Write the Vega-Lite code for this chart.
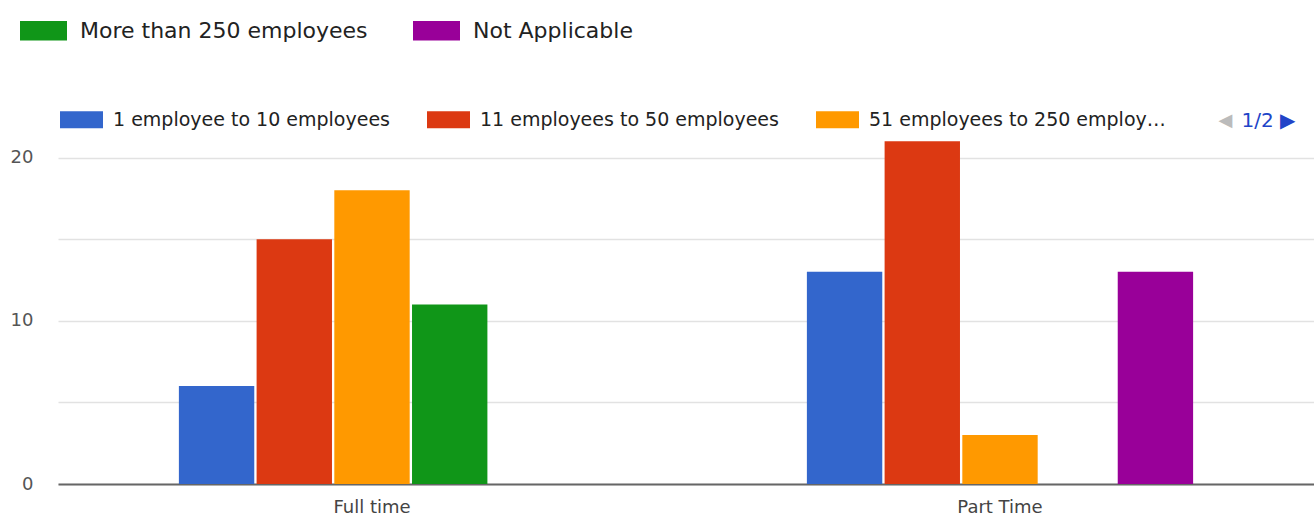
{
  "$schema": "https://vega.github.io/schema/vega-lite/v6.json",
  "width": 1256,
  "height": 359,
  "autosize": {"type": "none"},
  "padding": {"left": 58, "top": 125, "right": 0, "bottom": 40},
  "background": "white",
  "config": {
    "view": {"stroke": null},
    "font": "DejaVu Sans"
  },
  "data": {
    "values": [
      {"type": "Full time", "size": "1 employee to 10 employees", "count": 6},
      {"type": "Full time", "size": "11 employees to 50 employees", "count": 15},
      {"type": "Full time", "size": "51 employees to 250 employees", "count": 18},
      {"type": "Full time", "size": "More than 250 employees", "count": 11},
      {"type": "Full time", "size": "Not Applicable", "count": 0},
      {"type": "Part Time", "size": "1 employee to 10 employees", "count": 13},
      {"type": "Part Time", "size": "11 employees to 50 employees", "count": 21},
      {"type": "Part Time", "size": "51 employees to 250 employees", "count": 3},
      {"type": "Part Time", "size": "More than 250 employees", "count": 0},
      {"type": "Part Time", "size": "Not Applicable", "count": 13}
    ]
  },
  "encoding": {
    "x": {
      "field": "type",
      "type": "nominal",
      "scale": {"paddingInner": 0.385, "paddingOuter": 0.1925},
      "axis": {
        "title": "1/2 ▶",
        "titleX": 1183,
        "titleY": -364,
        "titleAlign": "left",
        "titleBaseline": "middle",
        "titleColor": "#2144c8",
        "titleFontSize": 20,
        "titleFontWeight": "normal",
        "labelAngle": 0,
        "labelFontSize": 18,
        "labelColor": "#444444",
        "labelPadding": 14,
        "ticks": false,
        "domainColor": "#666666",
        "domainWidth": 2
      }
    },
    "xOffset": {
      "field": "size",
      "type": "nominal",
      "scale": {
        "domain": ["1 employee to 10 employees", "11 employees to 50 employees", "51 employees to 250 employees", "More than 250 employees", "Not Applicable"],
        "paddingInner": 0.03
      }
    },
    "y": {
      "field": "count",
      "type": "quantitative",
      "scale": {"domain": [0, 22], "nice": false},
      "axis": {
        "title": "◀",
        "titleAngle": 0,
        "titleX": 1160,
        "titleY": -5,
        "titleAlign": "left",
        "titleBaseline": "middle",
        "titleColor": "#bbbbbb",
        "titleFontSize": 18,
        "titleFontWeight": "normal",
        "values": [0, 5, 10, 15, 20],
        "labelExpr": "datum.value % 10 == 0 ? datum.label : ''",
        "labelFontSize": 18,
        "labelColor": "#555555",
        "labelPadding": 25,
        "domain": false,
        "ticks": false,
        "gridColor": "#e2e2e2",
        "gridWidth": 1.5
      }
    }
  },
  "layer": [
    {
      "transform": [{"filter": "indexof(['1 employee to 10 employees','11 employees to 50 employees','51 employees to 250 employees'], datum.size) >= 0"}],
      "mark": {"type": "bar"},
      "encoding": {
        "color": {
          "field": "size",
          "type": "nominal",
          "scale": {
            "domain": ["1 employee to 10 employees", "11 employees to 50 employees", "51 employees to 250 employees"],
            "range": ["#3366cc", "#dc3912", "#ff9900"]
          },
          "legend": {
            "title": null,
            "orient": "none",
            "direction": "horizontal",
            "legendX": 2,
            "legendY": -27,
            "symbolType": "M-1,-0.4H1V0.4H-1Z",
            "symbolSize": 1849,
            "symbolStrokeWidth": 0,
            "symbolOpacity": 1,
            "labelFontSize": 19,
            "labelColor": "#222222",
            "labelOffset": 10,
            "columnPadding": 37,
            "labelLimit": 400,
            "labelExpr": "datum.label == '51 employees to 250 employees' ? '51 employees to 250 employ…' : datum.label"
          }
        }
      }
    },
    {
      "transform": [{"filter": "indexof(['More than 250 employees','Not Applicable'], datum.size) >= 0"}],
      "mark": {"type": "bar"},
      "encoding": {
        "color": {
          "field": "size",
          "type": "nominal",
          "scale": {
            "domain": ["More than 250 employees", "Not Applicable"],
            "range": ["#109618", "#990099"]
          },
          "legend": {
            "title": null,
            "orient": "none",
            "direction": "horizontal",
            "legendX": -38,
            "legendY": -118,
            "symbolType": "M-1,-0.42H1V0.42H-1Z",
            "symbolSize": 2209,
            "symbolStrokeWidth": 0,
            "symbolOpacity": 1,
            "labelFontSize": 22,
            "labelColor": "#222222",
            "labelOffset": 13,
            "columnPadding": 45,
            "labelLimit": 400
          }
        }
      }
    }
  ],
  "resolve": {"scale": {"color": "independent"}, "legend": {"color": "independent"}}
}
